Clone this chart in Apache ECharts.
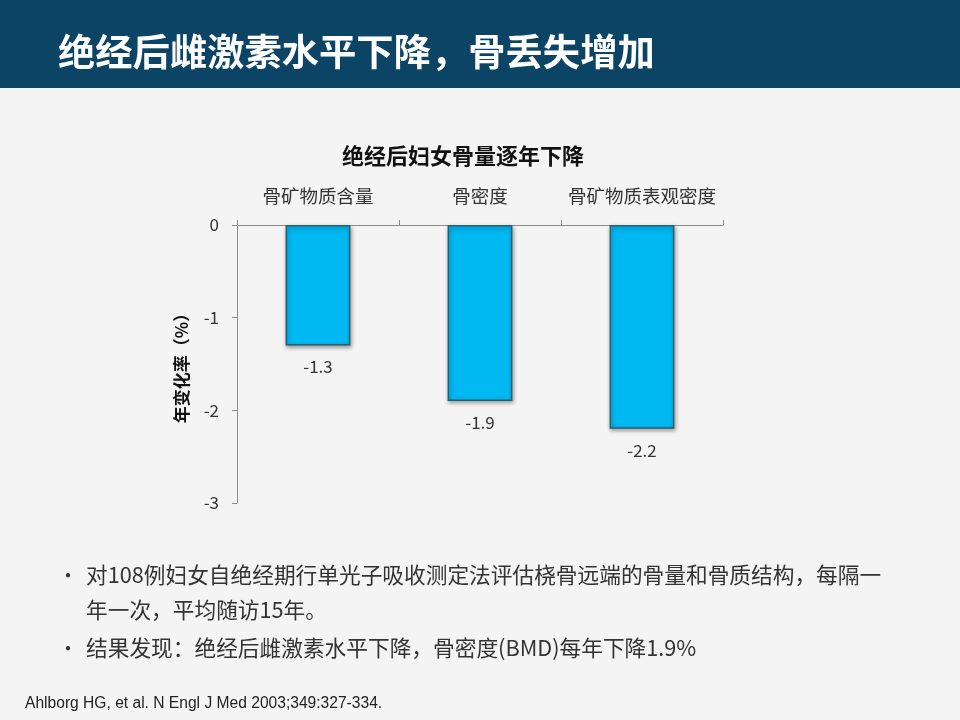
<!DOCTYPE html>
<html><head><meta charset="utf-8">
<script src="https://cdn.jsdelivr.net/npm/echarts@6/dist/echarts.min.js"></script>
<style>html,body{margin:0;padding:0;background:#f4f4f4;}#c{width:960px;height:720px;}</style>
</head><body><div id="c"></div>
<script>
const categories = ['骨矿物质含量', '骨密度', '骨矿物质表观密度'];
const values = [-1.3, -1.9, -2.2];
const yTicks = [0, -1, -2, -3];
const pageTitle = '绝经后雌激素水平下降，骨丢失增加';
const chartTitle = '绝经后妇女骨量逐年下降';
const yName = '年变化率（%）';
const bullets = ['对108例妇女自绝经期行单光子吸收测定法评估桡骨远端的骨量和骨质结构，每隔一', '年一次，平均随访15年。', '结果发现：绝经后雌激素水平下降，骨密度(BMD)每年下降1.9%'];
const citation = 'Ahlborg HG, et al. N Engl J Med 2003;349:327-334.';

const cjk = '"Noto Sans CJK SC", "Noto Sans", sans-serif';
const chart = echarts.init(document.getElementById('c'));
chart.setOption({
  backgroundColor: '#f4f4f4',
  title: {
    text: chartTitle, left: 458, top: 140, textAlign: 'center',
    textStyle: {fontFamily: cjk, fontSize: 22, fontWeight: 'bold', color: '#111'}
  },
  grid: {left: 237, top: 225, width: 486, height: 278},
  xAxis: {
    type: 'category', position: 'top', data: categories,
    axisLine: {show: true, lineStyle: {color: '#8c8c8c'}},
    axisTick: {show: true, interval: 0, length: 5, lineStyle: {color: '#8c8c8c'}},
    axisLabel: {interval: 0, margin: 20, fontFamily: cjk, fontSize: 18.5, color: '#333'}
  },
  yAxis: {
    type: 'value', min: yTicks[yTicks.length - 1], max: yTicks[0], interval: 1,
    name: yName, nameLocation: 'middle', nameGap: 47, nameRotate: 90,
    nameTextStyle: {fontFamily: cjk, fontSize: 17, fontWeight: 'bold', color: '#111'},
    axisLine: {show: true, lineStyle: {color: '#8c8c8c'}},
    axisTick: {show: true, length: 5, lineStyle: {color: '#8c8c8c'}},
    splitLine: {show: false},
    axisLabel: {margin: 18, fontFamily: cjk, fontSize: 17, color: '#333'}
  },
  series: [{
    type: 'bar', data: values, barWidth: '40%',
    itemStyle: {color: '#00b8f2', borderColor: '#2b5d6b', borderWidth: 1.5,
      shadowColor: 'rgba(0,0,0,0.35)', shadowBlur: 4, shadowOffsetX: 1, shadowOffsetY: 2},
    label: {show: true, position: 'bottom', distance: 13, fontFamily: cjk, fontSize: 17, color: '#333'}
  }],
  graphic: [
    {type: 'rect', left: 0, top: 0, shape: {width: 960, height: 88}, style: {fill: '#0c4466'}, z: -1},
    {type: 'text', left: 58, top: 33, style: {text: pageTitle, fontFamily: cjk, fontSize: 37.3, fontWeight: 'bold', fill: '#fff'}},
    {type: 'text', left: 58, top: 565, style: {text: '•', fontSize: 20, fill: '#333', fontFamily: cjk}},
    {type: 'text', left: 86, top: 564, style: {text: bullets[0], fontFamily: cjk, fontSize: 21.7, fill: '#333'}},
    {type: 'text', left: 86, top: 599, style: {text: bullets[1], fontFamily: cjk, fontSize: 21.7, fill: '#333'}},
    {type: 'text', left: 58, top: 638, style: {text: '•', fontSize: 20, fill: '#333', fontFamily: cjk}},
    {type: 'text', left: 86, top: 637, style: {text: bullets[2], fontFamily: cjk, fontSize: 21.7, fill: '#333'}},
    {type: 'text', left: 25, top: 696, style: {text: citation, fontFamily: '"Liberation Sans", sans-serif', fontSize: 15.6, fill: '#222'}}
  ]
});
</script></body></html>
